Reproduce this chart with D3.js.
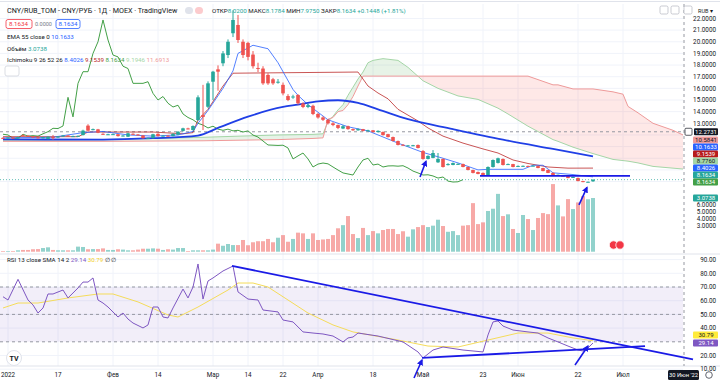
<!DOCTYPE html>
<html lang="ru">
<head>
<meta charset="UTF-8">
<title>CNY/RUB_TOM</title>
<script src="https://d3js.org/d3.v7.min.js"></script>
<style>
  body { margin: 0; background: #fff; }
  svg { display: block; font-family: Roboto, "Liberation Sans", sans-serif; }
</style>
</head>
<body>
<svg id="chart" width="720" height="385"></svg>
<script>
// ---- daily candles (index 0 = first visible day) ----
var opens  = [11.75,11.70,11.78,11.70,11.98,11.93,11.86,11.80,11.74,11.66,11.82,11.80,11.88,11.95,11.88,11.90,11.99,12.80,12.45,12.48,
              12.10,12.05,12.06,12.06,11.92,11.85,12.10,12.04,11.96,11.72,11.73,12.10,11.92,11.94,11.90,12.02,12.35,12.56,12.42,13.28,
              13.70,14.42,16.57,17.63,18.15,18.86,20.73,21.44,20.00,19.90,18.90,17.75,17.70,17.15,16.78,16.50,16.30,15.34,15.25,15.43,
              14.70,14.40,14.50,13.80,13.50,13.30,13.00,12.85,12.55,12.75,12.50,12.40,12.50,12.35,12.40,12.25,12.25,12.07,11.82,11.48,
              11.16,11.06,11.07,11.14,10.62,9.94,10.03,9.65,9.94,9.42,9.42,9.46,9.50,9.25,8.99,8.82,8.74,8.56,9.25,9.60,
              9.94,9.48,9.50,9.30,9.31,9.34,9.36,9.33,9.16,8.99,8.74,8.54,8.50,8.48,8.38,8.30,8.04,7.97,8.02];
var highs  = [11.80,11.82,11.80,11.85,12.05,11.98,11.90,11.84,11.84,11.88,11.99,11.90,11.99,11.98,11.94,11.96,12.45,12.92,12.55,12.52,
              12.14,12.10,12.12,12.08,11.98,12.18,12.14,12.08,11.98,11.78,12.10,12.14,11.98,11.98,12.14,12.32,12.62,12.62,12.82,15.40,
              16.30,16.60,17.50,17.97,19.20,20.20,22.70,22.30,20.20,20.00,19.20,18.20,17.90,17.30,16.90,16.80,16.50,15.50,15.45,15.50,
              14.80,14.70,14.60,13.90,13.60,13.35,13.10,12.90,12.85,12.80,12.55,12.58,12.52,12.45,12.42,12.40,12.30,12.10,11.86,11.52,
              11.22,11.14,11.15,11.18,10.70,10.25,10.70,10.45,9.98,9.58,9.64,9.56,9.54,9.28,9.02,8.86,8.78,9.30,9.90,10.05,
              9.98,9.55,9.52,9.38,9.38,9.37,9.40,9.35,9.18,9.02,8.78,8.60,8.52,8.50,8.42,8.34,8.06,8.00,8.1784];
var lows   = [11.66,11.68,11.66,11.68,11.88,11.84,11.76,11.70,11.70,11.62,11.58,11.76,11.84,11.85,11.84,11.86,11.96,12.30,12.40,12.15,
              12.00,12.00,12.02,11.86,11.88,11.82,12.02,11.96,11.68,11.66,11.70,11.86,11.88,11.86,11.88,11.98,12.30,12.48,12.38,13.20,
              12.42,14.30,15.00,15.80,17.90,18.60,20.40,19.90,18.60,18.40,17.70,17.40,16.30,16.30,16.30,16.40,15.40,14.90,15.10,14.60,
              14.30,14.30,13.70,13.40,13.20,12.90,12.75,12.50,12.50,12.45,12.35,12.36,12.30,12.30,12.20,12.20,11.95,11.78,11.44,11.10,
              11.08,11.02,11.03,10.84,9.88,9.90,10.00,9.60,9.20,9.38,9.40,9.44,9.22,8.96,8.70,8.62,8.52,8.52,9.20,9.55,
              9.38,9.44,9.22,9.28,9.28,9.30,9.32,9.14,8.88,8.72,8.54,8.52,8.46,8.28,8.35,8.02,7.94,7.94,7.975];
var closes = [11.70,11.78,11.70,11.80,11.93,11.88,11.80,11.74,11.80,11.85,11.80,11.86,11.95,11.88,11.90,11.92,12.37,12.37,12.50,12.20,
              12.05,12.06,12.07,11.90,11.95,12.14,12.06,12.00,11.72,11.73,12.06,11.90,11.94,11.90,12.10,12.28,12.57,12.55,12.77,15.23,
              13.55,16.43,17.43,17.43,19.00,20.00,21.87,20.15,18.86,18.70,17.90,17.70,16.43,16.43,16.43,16.57,15.57,15.00,15.30,14.72,
              14.40,14.55,13.80,13.50,13.30,13.00,12.85,12.60,12.75,12.50,12.40,12.50,12.35,12.40,12.25,12.35,11.99,11.82,11.48,11.14,
              11.12,11.10,11.12,10.88,9.94,10.20,10.45,9.94,9.25,9.50,9.59,9.52,9.25,8.99,8.74,8.65,8.56,9.25,9.85,10.00,
              9.42,9.50,9.25,9.34,9.35,9.32,9.36,9.16,8.90,8.74,8.56,8.58,8.48,8.30,8.39,8.04,7.96,7.98,8.1634];
var volumes = [0.04,0.04,0.04,0.08,0.10,0.10,0.14,0.15,0.21,0.25,0.10,0.08,0.08,0.08,0.08,0.29,0.27,0.14,0.15,0.15,
               0.19,0.10,0.10,0.14,0.12,0.08,0.08,0.12,0.17,0.17,0.19,0.17,0.10,0.14,0.12,0.21,0.21,0.04,0.08,0.08,
               0.08,0.08,0.12,0.46,0.34,0.44,0.38,0.38,0.67,0.37,0.54,0.60,0.60,0.73,0.54,0.80,0.95,0.57,0.73,1.09,
               1.05,0.73,1.05,0.67,0.70,0.73,0.95,1.34,1.52,2.04,1.01,0.78,1.36,0.95,1.18,1.05,1.24,1.30,1.30,1.01,
               1.17,0.86,1.28,1.41,1.52,1.41,1.49,1.83,1.47,1.14,1.18,0.95,1.49,1.52,2.78,1.58,1.68,2.33,2.46,3.31,
               2.04,2.14,1.30,1.07,2.10,1.87,1.24,1.93,2.21,2.15,3.87,2.65,2.02,3.01,2.44,2.82,3.18,3.00,3.0738];

// ---- indicator readings (bar index, value) ----
var emaIdx = [0,20,30,39,43,49,56,59,63,67,71,75,81,90,100,110,118];
var emaVal = [11.62,11.60,11.72,11.95,12.60,13.57,14.40,14.60,14.88,14.98,14.75,14.20,13.35,12.50,11.60,10.80,10.1633];
var tenkanIdx = [0,10,16,20,25,30,35,38,39,41,44,46,47,50,53,55,58,59,61,65,69,73,75,79,84,88,91,95,97,104,106,108,110,114,118];
var tenkanVal = [11.75,11.80,12.20,12.30,12.00,11.90,12.00,12.30,13.00,14.10,16.00,17.50,19.00,19.70,19.40,18.20,15.90,15.40,14.60,13.30,
                 12.70,12.35,12.00,11.30,10.50,10.00,9.60,9.00,9.05,9.05,9.40,9.40,8.75,8.60,8.4026];
var kijunIdx = [0,15,17,30,36,38,39,41,44,46,71,73,75,77,79,81,83,85,88,92,96,99,102,105,109,113,118];
var kijunVal = [11.85,11.85,12.25,12.25,12.10,12.20,13.30,14.20,16.20,17.30,17.40,16.20,15.60,15.10,14.20,13.70,13.20,12.60,11.90,11.30,
                10.80,10.45,9.85,9.55,9.25,9.15,9.1539];
var cloudIdx = [0,20,40,55,62,64,65,66,67,68,69,70,71,72,73,74,76,79,81,84,87,91,95,99,101,105,110,111,114,118,122,124,125,127,130,134,138,141,144];
var spanA = [11.55,11.60,11.80,12.00,12.05,12.10,13.15,13.60,14.15,14.60,15.40,16.10,16.80,17.40,18.20,18.40,18.55,18.40,17.80,16.65,
             16.00,15.35,15.05,14.30,13.80,12.75,11.60,11.45,10.95,10.40,9.90,9.80,9.75,9.60,9.30,9.15,9.00,8.85,8.776];
var spanB = [11.45,11.45,11.50,11.60,11.70,11.75,13.35,13.50,14.00,14.10,14.60,15.30,16.20,17.05,17.05,17.05,17.05,17.05,17.05,17.05,
             17.05,17.05,17.05,17.05,17.05,17.05,16.30,16.30,15.95,15.95,15.70,15.50,14.45,13.90,13.00,12.40,11.60,11.10,10.5841];
var chikouShift = 26;

var rsiIdx = [0,1,3,5,6,7,8,9,10,12,13,15,16,17,18,19,20,21,23,24,25,26,28,29,30,31,32,33,34,36,37,38,39,40,41,42,44,46,47,49,
              51,52,55,56,58,60,62,64,66,68,69,70,71,75,80,83,84,86,88,92,96,97,98,99,100,102,105,107,109,111,113,115,116,117,118];
var rsiVal = [62.9,60.5,75.6,60.5,56.9,51.0,54.7,64.9,64.9,67.8,62.0,69.3,73.6,73.6,76.6,60.5,58.3,55.4,48.1,51.0,46.6,43.7,40.1,42.3,55.4,
              55.4,48.1,47.4,54.7,68.5,62.0,70.0,86.8,61.2,74.4,76.6,81.7,85.3,66.4,61.2,60.5,53.2,51.8,45.9,44.5,37.2,36.4,35.7,34.2,29.9,
              32.8,33.5,36.4,34.2,29.9,22.6,18.2,24.0,26.2,24.0,22.6,35.0,44.5,45.2,41.5,38.6,37.2,36.4,32.8,29.9,26.9,24.0,23.3,25.5,29.14];
var rsiMaIdx = [0,3,7,13,19,22,27,33,35,39,45,47,50,53,57,61,66,70,79,85,91,97,103,109,114,118];
var rsiMaVal = [54.7,58.3,58.3,62.0,64.9,64.9,59.1,49.6,48.1,55.4,67.8,72.9,72.9,70.0,60.5,51.0,42.3,37.2,31.3,26.9,26.2,31.3,36.4,36.4,32.8,30.79];

// ---- axes ----
var timeTickIdx = [1,11,22,31,42,49,56,63,74,84,96,103,115,124];
var timeTickLabels = ["2022","17","Фев","14","Мар","14","22","Апр","18","Май","23","Июн","22","Июл"];
var priceTicks = [13,14,15,16,17,18,19,20,21,22];
var auxTicks = [6,5,4,3];
var rsiTicks = [90,80,70,60,50,40,20,10];
var markedPrice = 12.2731;

// ---- user drawings (bar index, value) ----
var hLine = [[95.4, 8.48], [125.4, 8.48]];
var priceArrows = [[[83.4, 8.39], [84.6, 9.75]], [[115.2, 6.0], [116.8, 7.5]]];
var rsiLines = [[[45.8, 85.4], [138, 17.1]], [[83.8, 18.2], [128.4, 26.9]]];
var rsiArrows = [[[82.2, 3.6], [83.8, 16.7]], [[114.4, 13.1], [117.0, 26.9]]];

var UP = "#26a69a", DOWN = "#ef5350", DRAW = "#1a1ae6";
var svg = d3.select("#chart");
var plotR = 683;

var x = d3.scaleLinear().domain([0, 118]).range([3, 593]);
var yP = d3.scaleLinear().domain([13, 22]).range([123.3, 18.45]);
var yV = d3.scaleLinear().domain([0, 3.0738]).range([251.7, 198]);
var yR = d3.scaleLinear().domain([30, 70]).range([341.8, 287]);
var yAux = d3.scaleLinear().domain([3, 6]).range([226, 205]);

var defs = svg.append("defs");
defs.append("clipPath").attr("id", "clipMain").append("rect").attr("x", 0).attr("y", 4).attr("width", plotR).attr("height", 250);
defs.append("clipPath").attr("id", "clipRsi").append("rect").attr("x", 0).attr("y", 255).attr("width", plotR).attr("height", 111);
defs.append("marker").attr("id", "arrow").attr("viewBox", "0 0 10 10").attr("refX", 8).attr("refY", 5)
  .attr("markerWidth", 4).attr("markerHeight", 4).attr("orient", "auto")
  .append("path").attr("d", "M0,0L10,5L0,10z").attr("fill", DRAW);

function pts(idx, vals) { return idx.map(function(d, k) { return [d, vals[k]]; }); }
var cloud = cloudIdx.map(function(j, k) { return {j: j, a: spanA[k], b: spanB[k]}; });
defs.append("clipPath").attr("id", "aboveB").append("path")
  .attr("d", d3.area().x(function(d) { return x(d.j); }).y0(0).y1(function(d) { return yP(d.b); })(cloud));
defs.append("clipPath").attr("id", "belowB").append("path")
  .attr("d", d3.area().x(function(d) { return x(d.j); }).y0(function(d) { return yP(d.b); }).y1(260)(cloud));

// ---- grid ----
var grid = svg.append("g").attr("stroke", "#f0f3fa").attr("stroke-width", 1);
grid.selectAll(".v").data(timeTickIdx).enter().append("line")
  .attr("x1", function(d) { return x(d); }).attr("x2", function(d) { return x(d); })
  .attr("y1", 4).attr("y2", 366);
grid.selectAll(".h").data(d3.range(8, 23)).enter().append("line")
  .attr("x1", 0).attr("x2", plotR).attr("y1", function(d) { return yP(d); }).attr("y2", function(d) { return yP(d); });
grid.selectAll(".r").data(rsiTicks).enter().append("line")
  .attr("x1", 0).attr("x2", plotR).attr("y1", function(d) { return yR(d); }).attr("y2", function(d) { return yR(d); });

svg.append("line").attr("x1", 0).attr("x2", 720).attr("y1", 1.5).attr("y2", 1.5).attr("stroke", "#e0e3eb");
svg.append("line").attr("x1", 0).attr("x2", 720).attr("y1", 254).attr("y2", 254).attr("stroke", "#e0e3eb");
svg.append("line").attr("x1", 0).attr("x2", 720).attr("y1", 366).attr("y2", 366).attr("stroke", "#e0e3eb");

// ---- main pane ----
var main = svg.append("g").attr("clip-path", "url(#clipMain)");
var between = d3.area().x(function(d) { return x(d.j); })
  .y0(function(d) { return yP(d.a); }).y1(function(d) { return yP(d.b); });
main.append("g").attr("clip-path", "url(#aboveB)").append("path").attr("d", between(cloud)).attr("fill", "rgba(67,160,71,0.13)");
main.append("g").attr("clip-path", "url(#belowB)").append("path").attr("d", between(cloud)).attr("fill", "rgba(244,67,54,0.12)");

main.selectAll(".vol").data(volumes).enter().append("rect")
  .attr("x", function(d, i) { return x(i) - 2; }).attr("width", 4)
  .attr("y", function(d) { return yV(d); }).attr("height", function(d) { return yV(0) - yV(d); })
  .attr("fill", function(d, i) { return closes[i] >= opens[i] ? UP : DOWN; }).attr("opacity", 0.5);

main.append("line").attr("x1", 0).attr("x2", plotR).attr("y1", yP(markedPrice)).attr("y2", yP(markedPrice))
  .attr("stroke", "#9598a1").attr("stroke-dasharray", "3,3");

var line = d3.line().x(function(d) { return x(d[0]); }).y(function(d) { return yP(d[1]); });
main.append("path").attr("d", line(pts(cloudIdx, spanA))).attr("fill", "none").attr("stroke", "#a5d6a7");
main.append("path").attr("d", line(pts(cloudIdx, spanB))).attr("fill", "none").attr("stroke", "#ef9a9a");
var chikou = closes.slice(chikouShift).map(function(c, k) { return [k, c]; });
main.append("path").attr("d", line(chikou)).attr("fill", "none").attr("stroke", "#43a047");
main.append("path").attr("d", line(pts(kijunIdx, kijunVal))).attr("fill", "none").attr("stroke", "#b71c1c").attr("stroke-opacity", 0.75);
main.append("path").attr("d", line(pts(tenkanIdx, tenkanVal))).attr("fill", "none").attr("stroke", "#2962ff").attr("stroke-opacity", 0.8);
main.append("path").attr("d", d3.line().curve(d3.curveMonotoneX).x(function(d) { return x(d[0]); }).y(function(d) { return yP(d[1]); })(pts(emaIdx, emaVal)))
  .attr("fill", "none").attr("stroke", "#1f3fe6").attr("stroke-width", 1.8);

var candles = main.selectAll(".c").data(closes).enter().append("g");
candles.append("line")
  .attr("x1", function(d, i) { return x(i); }).attr("x2", function(d, i) { return x(i); })
  .attr("y1", function(d, i) { return yP(highs[i]); }).attr("y2", function(d, i) { return yP(lows[i]); })
  .attr("stroke", function(d, i) { return d >= opens[i] ? UP : DOWN; });
candles.append("rect")
  .attr("x", function(d, i) { return x(i) - 1.8; }).attr("width", 3.6)
  .attr("y", function(d, i) { return yP(Math.max(d, opens[i])); })
  .attr("height", function(d, i) { return Math.max(1, Math.abs(yP(d) - yP(opens[i]))); })
  .attr("fill", function(d, i) { return d >= opens[i] ? UP : DOWN; });

main.append("line").attr("x1", 0).attr("x2", plotR).attr("y1", yP(closes[118])).attr("y2", yP(closes[118]))
  .attr("stroke", UP).attr("stroke-dasharray", "1,2").attr("opacity", 0.7);

svg.append("path").attr("d", line(hLine)).attr("stroke", DRAW).attr("stroke-width", 1.8).attr("fill", "none");
priceArrows.forEach(function(a) {
  svg.append("path").attr("d", line(a)).attr("stroke", DRAW).attr("stroke-width", 1.6).attr("fill", "none").attr("marker-end", "url(#arrow)");
});

// event markers in volume area
[613.5, 620].forEach(function(cx) {
  svg.append("circle").attr("cx", cx).attr("cy", 245).attr("r", 4.2).attr("fill", "#f23645").attr("stroke", "#fff").attr("stroke-width", 0.8);
});

// ---- RSI pane ----
var rsi = svg.append("g").attr("clip-path", "url(#clipRsi)");
rsi.append("rect").attr("x", 0).attr("width", plotR).attr("y", yR(70)).attr("height", yR(30) - yR(70)).attr("fill", "rgba(126,87,194,0.1)");
[70, 50, 30].forEach(function(v) {
  rsi.append("line").attr("x1", 0).attr("x2", plotR).attr("y1", yR(v)).attr("y2", yR(v))
    .attr("stroke", "#9598a1").attr("stroke-dasharray", "3,3");
});
var rline = d3.line().x(function(d) { return x(d[0]); }).y(function(d) { return yR(d[1]); });
rsi.append("path").attr("d", rline(pts(rsiMaIdx, rsiMaVal))).attr("fill", "none").attr("stroke", "#f5dc5a").attr("stroke-width", 1);
rsi.append("path").attr("d", rline(pts(rsiIdx, rsiVal))).attr("fill", "none").attr("stroke", "#7e57c2").attr("stroke-width", 1);
rsiLines.forEach(function(a) {
  svg.append("path").attr("d", rline(a)).attr("stroke", DRAW).attr("stroke-width", 1.8).attr("fill", "none");
});
rsiArrows.forEach(function(a) {
  svg.append("path").attr("d", rline(a)).attr("stroke", DRAW).attr("stroke-width", 1.6).attr("fill", "none").attr("marker-end", "url(#arrow)");
});

// TradingView logo
svg.append("circle").attr("cx", 14).attr("cy", 358).attr("r", 7.5).attr("fill", "#fff").attr("stroke", "#e0e3eb");
svg.append("text").attr("x", 14).attr("y", 360.5).attr("text-anchor", "middle").attr("font-size", 7).attr("font-weight", 700).attr("fill", "#131722").text("TV");

// ---- crosshair ----
svg.append("line").attr("x1", 684).attr("x2", 684).attr("y1", 4).attr("y2", 366).attr("stroke", "#9598a1").attr("stroke-dasharray", "3,3");

// ---- right axis ----
var axisG = svg.append("g").attr("font-size", 6.3).attr("fill", "#131722").attr("text-anchor", "end");
axisG.selectAll(".p").data(priceTicks).enter().append("text")
  .attr("x", 716).attr("y", function(d) { return yP(d) + 2.2; }).text(function(d) { return d.toFixed(4); });
axisG.selectAll(".a").data(auxTicks).enter().append("text")
  .attr("x", 716).attr("y", function(d) { return yAux(d) + 2.2; }).text(function(d) { return d.toFixed(4); });
axisG.selectAll(".r").data(rsiTicks).enter().append("text")
  .attr("x", 716).attr("y", function(d) { return yR(d) + 2.2; }).text(function(d) { return d.toFixed(2); });

var stackVals = [10.5841, 10.1633, 9.1539, 8.7760, 8.4026, 8.1634, 8.1634];
var stackFill = ["#ef9a9a", "#2962ff", "#b71c1c", "#a5d6a7", "#2962ff", "#26a69a", "#43a047"];
var stackText = ["#131722", "#fff", "#fff", "#131722", "#fff", "#fff", "#fff"];
function tag(yc, s, fill, color, x0) {
  svg.append("rect").attr("x", x0 || 693).attr("y", yc - 3.6).attr("width", 718 - (x0 || 693)).attr("height", 7.2).attr("rx", 1).attr("fill", fill);
  svg.append("text").attr("x", 706).attr("y", yc + 2.1).attr("text-anchor", "middle").attr("font-size", 6)
    .attr("fill", color).text(s);
}
tag(yP(markedPrice), markedPrice.toFixed(4), "#131722", "#fff", 694);
svg.append("rect").attr("x", 685).attr("y", yP(markedPrice) - 3.5).attr("width", 7).attr("height", 7).attr("rx", 1)
  .attr("fill", "#fff").attr("stroke", "#131722").attr("stroke-width", 0.7);
stackVals.forEach(function(v, k) { tag(140 + 7 * k, v.toFixed(4), stackFill[k], stackText[k]); });
tag(yV(volumes[118]), volumes[118].toFixed(4), "#26a69a", "#fff");
var rs2 = yR(rsiVal[rsiVal.length - 1]);
tag(Math.min(yR(rsiMaVal[rsiMaVal.length - 1]), rs2 - 8), rsiMaVal[rsiMaVal.length - 1].toFixed(2), "#ffeb3b", "#131722");
tag(rs2, rsiVal[rsiVal.length - 1].toFixed(2), "#7e57c2", "#fff");

// ---- time axis ----
svg.append("g").attr("font-size", 6.3).attr("fill", "#131722").attr("text-anchor", "middle")
  .selectAll("text").data(timeTickLabels).enter().append("text")
  .attr("x", function(d, k) { return x(timeTickIdx[k]); }).attr("y", 377).text(function(d) { return d; });
svg.append("rect").attr("x", 668).attr("y", 370).attr("width", 31).attr("height", 10).attr("rx", 1.5).attr("fill", "#131722");
svg.append("text").attr("x", 683.5).attr("y", 377.3).attr("text-anchor", "middle").attr("font-size", 5.8).attr("fill", "#fff").text("30 Июн '22");
svg.append("circle").attr("cx", 709).attr("cy", 375).attr("r", 3.3).attr("fill", "none").attr("stroke", "#50535e").attr("stroke-width", 0.9);

// ---- legend ----
function row(xx, yy, size, parts) {
  var t = svg.append("text").attr("x", xx).attr("y", yy).attr("font-size", size);
  parts.forEach(function(p) { t.append("tspan").attr("fill", p[1]).text(p[0]); });
  return t;
}
row(7, 13, 7.2, [["CNY/RUB_TOM - CNY/РУБ · 1Д · MOEX · TradingView", "#131722"]]);
svg.append("rect").attr("x", 185).attr("y", 7).attr("width", 8).attr("height", 7).attr("rx", 3.5).attr("fill", "#e0e3eb");
svg.append("rect").attr("x", 195).attr("y", 7).attr("width", 8).attr("height", 7).attr("rx", 3.5).attr("fill", "#fccbcd");
row(212, 13, 6.2, [["ОТКР", "#131722"], ["8.0200", UP], [" МАКС", "#131722"], ["8.1784", UP], [" МИН", "#131722"], ["7.9750", UP],
                   [" ЗАКР", "#131722"], ["8.1634", UP], [" +0.1448 (+1.81%)", UP]]);
svg.append("rect").attr("x", 6).attr("y", 19.5).attr("width", 26).attr("height", 9).attr("rx", 2).attr("fill", "#fff").attr("stroke", "#f23645").attr("stroke-width", 0.8);
row(9, 26.3, 6.2, [["8.1634", "#f23645"]]);
row(35, 26.3, 5.5, [["0.0000", "#787b86"]]);
svg.append("rect").attr("x", 56).attr("y", 19.5).attr("width", 24).attr("height", 9).attr("rx", 2).attr("fill", "#fff").attr("stroke", "#2962ff").attr("stroke-width", 0.8);
row(58.5, 26.3, 6.2, [["8.1634", "#2962ff"]]);
row(7, 39, 6.2, [["EMA 55 close 0  ", "#131722"], ["10.1633", "#2962ff"]]);
row(7, 50.5, 6.2, [["Объём  ", "#131722"], ["3.0738", UP]]);
row(7, 62, 6.2, [["Ichimoku 9 26 52 26  ", "#131722"], ["8.4026  ", "#2962ff"], ["9.1539  ", "#b71c1c"], ["8.1634  ", "#43a047"],
                 ["9.1946  ", "#a5d6a7"], ["11.6913", "#ef9a9a"]]);
svg.append("rect").attr("x", 5).attr("y", 66).attr("width", 14).attr("height", 10).attr("rx", 2).attr("fill", "#fff").attr("stroke", "#d1d4dc").attr("stroke-width", 0.8);
row(7, 261.5, 6.2, [["RSI 13 close SMA 14 2  ", "#131722"], ["29.14  ", "#7e57c2"], ["30.79  ", "#f2cf1d"], ["∅ ∅", "#131722"]]);

// ---- top right toolbar ----
[660, 671, 684].forEach(function(bx) {
  svg.append("rect").attr("x", bx).attr("y", 6).attr("width", 8).attr("height", 8).attr("rx", 1.5).attr("fill", "#fff").attr("stroke", "#b2b5be").attr("stroke-width", 0.7);
});
row(698, 12.5, 5.5, [["RUB ▾", "#131722"]]);
</script>
</body>
</html>
